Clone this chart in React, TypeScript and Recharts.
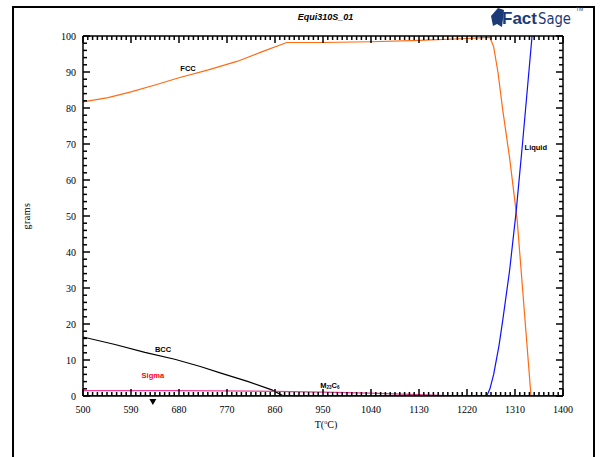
import React from 'react';
import { LineChart, Line, XAxis, YAxis, ReferenceDot } from 'recharts';

// temperatures (°C) and phase amounts (grams)
const fccT = [500, 547, 590, 635, 680, 735, 790, 835, 882, 950, 1040, 1130, 1220, 1263, 1270, 1278, 1287, 1300, 1314, 1340];
const fccGrams = [81.7, 82.9, 84.5, 86.4, 88.4, 90.6, 93, 95.6, 98.2, 98.2, 98.4, 98.8, 99.3, 99.6, 97, 90, 79.5, 66, 49, 0];

const liquidT = [1257, 1263, 1270, 1280, 1287, 1300, 1312, 1324, 1342];
const liquidGrams = [0, 2, 6, 14, 21, 35, 51, 70, 100];

const bccT = [500, 560, 616, 672, 720, 760, 810, 854, 876];
const bccGrams = [16.4, 14.3, 12.1, 10.2, 8.2, 6.3, 4, 1.7, 0];

const sigmaT = [500, 1400];
const sigmaGrams = [0, 0];

const m23c6T = [500, 680, 860, 950, 1040, 1130, 1180, 1220];
const m23c6Grams = [1.5, 1.5, 1.3, 1.1, 0.8, 0.4, 0.1, 0];

const xTicks = [500, 590, 680, 770, 860, 950, 1040, 1130, 1220, 1310, 1400];
const yTicks = [0, 10, 20, 30, 40, 50, 60, 70, 80, 90, 100];

const toPoints = (t: number[], g: number[]) => t.map((v, i) => ({ t: v, g: g[i] }));

// plot box size; minor ticks (10 per x step, 5 per y step) and the
// mirrored top/right ticks are drawn from each major tick
const PLOT_W = 480;
const PLOT_H = 360;
const X_MINOR = 4.8;
const Y_MINOR = 7.2;

const serif = '"Liberation Serif", "Times New Roman", serif';
const sans = '"Liberation Sans", Arial, sans-serif';

const BottomTick = (props: any) => {
  const x = Number(props.x);
  const y = Number(props.y);
  const value = props.payload.value;
  const last = value === xTicks[xTicks.length - 1];
  const offsets = last ? [0] : [0, 1, 2, 3, 4, 5, 6, 7, 8, 9];
  return (
    <g>
      {offsets.map((k) => {
        const len = k === 0 ? 7 : 4;
        const xx = x + k * X_MINOR;
        return (
          <g key={k}>
            <line x1={xx} y1={y} x2={xx} y2={y - len} stroke="#000" strokeWidth={1.5} />
            <line x1={xx} y1={y - PLOT_H} x2={xx} y2={y - PLOT_H + len} stroke="#000" strokeWidth={1.5} />
          </g>
        );
      })}
      <text x={x} y={y + 17} textAnchor="middle" fontSize={10} fontFamily={serif} fill="#000">
        {value}
      </text>
    </g>
  );
};

const LeftTick = (props: any) => {
  const x = Number(props.x);
  const y = Number(props.y);
  const value = props.payload.value;
  const last = value === yTicks[yTicks.length - 1];
  const offsets = last ? [0] : [0, 1, 2, 3, 4];
  return (
    <g>
      {offsets.map((k) => {
        const len = k === 0 ? 7 : 4;
        const yy = y - k * Y_MINOR;
        return (
          <g key={k}>
            <line x1={x} y1={yy} x2={x + len} y2={yy} stroke="#000" strokeWidth={1.5} />
            <line x1={x + PLOT_W} y1={yy} x2={x + PLOT_W - len} y2={yy} stroke="#000" strokeWidth={1.5} />
          </g>
        );
      })}
      <text x={x - 7} y={y + 3.5} textAnchor="end" fontSize={10} fontFamily={serif} fill="#000">
        {value}
      </text>
    </g>
  );
};

const phaseLabel = (text: React.ReactNode, color = '#000') => (props: any) => {
  const cx = Number(props.cx);
  const cy = Number(props.cy);
  return (
    <text x={cx} y={cy + 3} textAnchor="middle" fontSize={7.5} fontWeight="bold" fontFamily={sans} fill={color}>
      {text}
    </text>
  );
};

const Triangle = (props: any) => {
  const cx = Number(props.cx);
  const cy = Number(props.cy);
  return <polygon points={`${cx - 3.5},${cy - 3} ${cx + 3.5},${cy - 3} ${cx},${cy + 3}`} fill="#000" />;
};

const axisLine = { stroke: '#000', strokeWidth: 1.5 };

export default function App() {
  return (
    <div style={{ position: 'fixed', left: 0, top: 0, width: 607, height: 457, background: '#fff', overflow: 'hidden' }}>
      <div style={{ position: 'absolute', left: 12, top: 6, width: 579, height: 470, border: '2px solid #000' }} />
      <div style={{ position: 'absolute', left: 0, top: 12, width: 651, textAlign: 'center', fontFamily: sans, fontSize: 9, fontWeight: 'bold', fontStyle: 'italic' }}>
        Equi310S_01
      </div>
      <svg style={{ position: 'absolute', left: 490, top: 3 }} width={100} height={28}>
        <polygon points="1,13 8,5 14,7 12,24 7,21 3,23" fill="#1d3a78" />
        <text x={12} y={21} fontFamily={sans} fontSize={17} fontWeight="bold" fill="#1d3a78">
          Fact
        </text>
        <text x={48} y={21} fontFamily={'"DejaVu Sans Condensed", "Liberation Sans Narrow", sans-serif'} fontSize={15} fill="#1d3a78" textLength={33} lengthAdjust="spacingAndGlyphs">
          Sage
        </text>
        <text x={86} y={8} fontFamily={sans} fontSize={5} fill="#1d3a78">
          TM
        </text>
      </svg>
      <LineChart width={607} height={457} margin={{ top: 35, right: 43, bottom: 60, left: 82 }} style={{ position: 'absolute', left: 0, top: 0 }}>
        <XAxis
          xAxisId={0}
          type="number"
          dataKey="t"
          domain={[500, 1400]}
          ticks={xTicks}
          interval={0}
          height={1}
          tickSize={0}
          tickMargin={0}
          tickLine={false}
          axisLine={axisLine}
          tick={BottomTick}
          allowDataOverflow
        />
        <XAxis xAxisId="top" orientation="top" type="number" domain={[500, 1400]} height={1} tick={false} tickLine={false} axisLine={axisLine} />
        <YAxis
          yAxisId={0}
          type="number"
          domain={[0, 100]}
          ticks={yTicks}
          interval={0}
          width={1}
          tickSize={0}
          tickMargin={0}
          tickLine={false}
          axisLine={axisLine}
          tick={LeftTick}
          allowDataOverflow
        />
        <YAxis yAxisId="right" orientation="right" type="number" domain={[0, 100]} width={1} tick={false} tickLine={false} axisLine={axisLine} />
        <Line data={toPoints(fccT, fccGrams)} dataKey="g" type="linear" stroke="#ff6a13" strokeWidth={1.2} dot={false} isAnimationActive={false} />
        <Line data={toPoints(liquidT, liquidGrams)} dataKey="g" type="linear" stroke="#1010ff" strokeWidth={1.2} dot={false} isAnimationActive={false} />
        <Line data={toPoints(bccT, bccGrams)} dataKey="g" type="linear" stroke="#000" strokeWidth={1.2} dot={false} isAnimationActive={false} />
        <Line data={toPoints(m23c6T, m23c6Grams)} dataKey="g" type="linear" stroke="#ee3c96" strokeWidth={1.2} dot={false} isAnimationActive={false} />
        <Line data={toPoints(sigmaT, sigmaGrams)} dataKey="g" type="linear" stroke="#ff0000" strokeWidth={2} dot={false} isAnimationActive={false} />
        <ReferenceDot x={697} y={91.1} r={0} ifOverflow="visible" shape={phaseLabel('FCC')} />
        <ReferenceDot x={650} y={13.1} r={0} ifOverflow="visible" shape={phaseLabel('BCC')} />
        <ReferenceDot x={631} y={5.8} r={0} ifOverflow="visible" shape={phaseLabel('Sigma', '#ff0000')} />
        <ReferenceDot
          x={963}
          y={3.1}
          r={0}
          ifOverflow="visible"
          shape={phaseLabel(
            <>
              M<tspan fontSize={4.5} dy={1.5}>23</tspan>
              <tspan dy={-1.5}>C</tspan>
              <tspan fontSize={4.5} dy={1.5}>6</tspan>
            </>
          )}
        />
        <ReferenceDot x={1349} y={69.2} r={0} ifOverflow="visible" shape={phaseLabel('Liquid')} />
        <ReferenceDot x={631} y={-1.7} r={0} ifOverflow="visible" shape={<Triangle />} />
      </LineChart>
      <svg style={{ position: 'absolute', left: 0, top: 0, pointerEvents: 'none' }} width={607} height={457}>
        <text x={30} y={216} transform="rotate(-90 30 216)" textAnchor="middle" fontFamily={serif} fontSize={10} fill="#000" letterSpacing={0.5}>
          grams
        </text>
        <text x={326} y={428} textAnchor="middle" fontFamily={serif} fontSize={10} fill="#000">
          T(<tspan fontSize={6} dy={-4}>o</tspan>
          <tspan dy={4}>C)</tspan>
        </text>
      </svg>
    </div>
  );
}
